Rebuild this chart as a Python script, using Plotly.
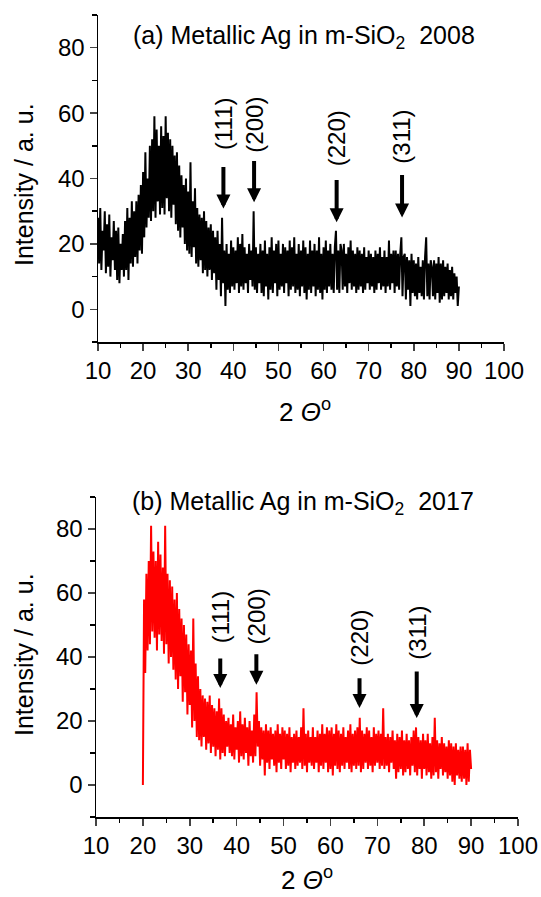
import numpy as np
import plotly.graph_objects as go

# ---------------- data ----------------
# panel (a): 2-theta from 10 to 90 in 0.25 steps
theta_a_start, theta_a_step = 10.0, 0.25
intensity_a = [
    28, 14, 31, 12, 24, 18, 30, 11,
    26, 13, 29, 10, 22, 15, 27, 12,
    24, 9, 25, 8, 20, 12, 23, 10,
    27, 12, 31, 9, 28, 14, 33, 13,
    30, 16, 33, 14, 35, 18, 38, 17,
    42, 22, 48, 25, 40, 28, 50, 27,
    52, 30, 59, 28, 55, 33, 50, 29,
    56, 31, 53, 29, 59, 34, 54, 30,
    52, 28, 50, 32, 47, 26, 48, 24,
    44, 22, 41, 25, 38, 20, 40, 18,
    36, 17, 45, 16, 33, 19, 37, 14,
    31, 13, 29, 15, 28, 11, 30, 12,
    27, 10, 25, 12, 26, 9, 24, 11,
    22, 6, 24, 9, 20, 4, 28, 8,
    18, 1, 20, 6, 17, 5, 21, 7,
    19, 6, 18, 8, 22, 5, 20, 7,
    23, 6, 19, 8, 17, 5, 20, 9,
    18, 7, 30, 6, 19, 5, 17, 8,
    20, 5, 18, 4, 21, 7, 17, 3,
    19, 6, 22, 5, 18, 8, 20, 4,
    21, 6, 17, 7, 20, 5, 19, 8,
    18, 4, 21, 6, 19, 7, 22, 5,
    17, 6, 20, 4, 18, 7, 21, 5,
    19, 3, 17, 6, 21, 5, 18, 7,
    20, 4, 18, 6, 22, 5, 17, 3,
    19, 6, 21, 5, 18, 7, 20, 6,
    17, 5, 19, 24, 6, 18, 5, 20,
    18, 6, 20, 7, 17, 5, 19, 8,
    21, 6, 18, 7, 17, 5, 19, 6,
    18, 7, 17, 5, 19, 6, 16, 8,
    18, 6, 17, 7, 16, 5, 18, 6,
    17, 8, 19, 6, 16, 7, 18, 5,
    16, 7, 21, 6, 17, 8, 18, 5,
    18, 7, 17, 6, 17, 22, 4, 16,
    17, 3, 16, 6, 15, 1, 17, 5,
    15, 4, 14, 3, 16, 5, 13, 4,
    15, 3, 16, 22, 4, 14, 3, 15,
    13, 4, 15, 3, 14, 5, 16, 2,
    14, 3, 15, 4, 13, 5, 14, 3,
    12, 4, 13, 3, 11, 5, 10, 1,
    7,
]

# panel (b): 2-theta from 20 to 90 in 0.25 steps
theta_b_start, theta_b_step = 20.0, 0.25
intensity_b = [
    0, 58, 35, 66, 42, 70, 44, 81,
    48, 73, 46, 70, 42, 76, 47, 72,
    45, 68, 41, 81, 44, 66, 38, 64,
    40, 62, 36, 58, 33, 60, 30, 55,
    34, 52, 26, 50, 29, 47, 22, 44,
    25, 42, 18, 52, 20, 38, 15, 34,
    14, 30, 12, 28, 15, 27, 11, 26,
    13, 28, 10, 25, 12, 24, 9, 23,
    11, 27, 8, 24, 10, 22, 9, 20,
    12, 21, 10, 19, 9, 22, 8, 18,
    11, 20, 7, 23, 9, 19, 8, 21,
    10, 18, 6, 20, 9, 17, 7, 22,
    9, 29, 12, 20, 6, 18, 8, 17,
    3, 19, 7, 17, 5, 18, 8, 16,
    6, 17, 4, 19, 7, 16, 5, 18,
    8, 17, 5, 16, 6, 18, 4, 15,
    7, 16, 5, 17, 6, 15, 7, 18,
    5, 24, 6, 16, 4, 17, 7, 15,
    6, 18, 5, 15, 7, 17, 4, 16,
    6, 19, 5, 16, 7, 18, 4, 17,
    5, 18, 3, 16, 6, 19, 5, 17,
    4, 16, 6, 18, 5, 15, 7, 17,
    5, 19, 4, 16, 6, 17, 5, 18,
    6, 21, 4, 17, 5, 16, 7, 18,
    5, 17, 6, 15, 4, 18, 6, 16,
    7, 17, 5, 16, 6, 24, 5, 15,
    6, 16, 4, 15, 7, 17, 5, 14,
    2, 16, 4, 15, 5, 17, 3, 14,
    4, 16, 5, 14, 3, 15, 6, 17,
    4, 18, 3, 15, 5, 14, 2, 16,
    5, 14, 3, 16, 4, 13, 2, 15,
    3, 21, 4, 14, 2, 13, 5, 15,
    3, 13, 4, 12, 2, 14, 3, 13,
    1, 12, 0, 13, 3, 11, 2, 12,
    1, 12, 2, 11, 0, 13, 1, 11,
    5,
]

theta_a = theta_a_start + theta_a_step * np.arange(len(intensity_a))
theta_b = theta_b_start + theta_b_step * np.arange(len(intensity_b))

# reflection markers
hkl_labels = ["(111)", "(200)", "(220)", "(311)"]
peaks_a_x = [37.8, 44.6, 62.9, 77.4]
arrow_head_a = [30.8, 32.7, 26.6, 28.1]
arrow_tail_a = [44.0, 45.8, 40.0, 41.5]
label_y_a = [56.8, 56.5, 52.2, 52.8]

peaks_b_x = [36.5, 44.2, 66.2, 78.4]
arrow_head_b = [30.3, 31.3, 24.1, 20.9]
arrow_tail_b = [40.0, 41.3, 33.8, 35.9]
label_y_b = [52.5, 52.8, 45.9, 47.5]

x_ticks = list(range(10, 101, 10))
y_ticks = [0, 20, 40, 60, 80]

titles = ["(a) Metallic Ag in m-SiO<sub>2</sub>  2008",
          "(b) Metallic Ag in m-SiO<sub>2</sub>  2017"]

# ---------------- figure ----------------
W, H = 541, 897
FONT = "Arial, Liberation Sans, sans-serif"

fig = go.Figure()
fig.add_trace(go.Scatter(x=theta_a, y=intensity_a, mode="lines",
                         line=dict(color="black", width=2),
                         xaxis="x", yaxis="y", showlegend=False))
fig.add_trace(go.Scatter(x=theta_b, y=intensity_b, mode="lines",
                         line=dict(color="#ff0000", width=2),
                         xaxis="x2", yaxis="y2", showlegend=False))


def xax(domain, anchor):
    return dict(domain=domain, anchor=anchor, range=[10, 100],
                tickvals=x_ticks, ticks="outside", ticklen=7, tickwidth=1.5,
                minor=dict(dtick=5, tick0=10, ticks="outside", ticklen=4, tickwidth=1.5,
                           tickcolor="black"),
                showline=True, linecolor="black", linewidth=1.5,
                showgrid=False, zeroline=False, mirror=False, automargin=False,
                tickfont=dict(family=FONT, size=24, color="black"))


def yax(domain, anchor):
    return dict(domain=domain, anchor=anchor, range=[-10, 90],
                tickvals=y_ticks, ticks="outside", ticklen=7, tickwidth=1.5,
                minor=dict(dtick=10, tick0=0, ticks="outside", ticklen=5, tickwidth=1.5,
                           tickcolor="black"),
                showline=True, linecolor="black", linewidth=1.5,
                showgrid=False, zeroline=False, mirror=False, automargin=False,
                tickfont=dict(family=FONT, size=24, color="black"))


fig.update_layout(
    width=W, height=H, autosize=False,
    margin=dict(l=0, r=0, t=0, b=0, pad=0),
    paper_bgcolor="white", plot_bgcolor="white",
    xaxis=xax([98 / W, 504 / W], "y"),
    yaxis=yax([1 - 342 / H, 1 - 15 / H], "x"),
    xaxis2=xax([96 / W, 518 / W], "y2"),
    yaxis2=yax([1 - 817 / H, 1 - 497 / H], "x2"),
    font=dict(family=FONT, color="black"),
)

annotations = []
panels = [
    ("x", "y", peaks_a_x, arrow_head_a, arrow_tail_a, label_y_a),
    ("x2", "y2", peaks_b_x, arrow_head_b, arrow_tail_b, label_y_b),
]
for xr, yr, px, head, tail, ly in panels:
    for lab, x0, h, t, yl in zip(hkl_labels, px, head, tail, ly):
        annotations.append(dict(x=x0, y=h, xref=xr, yref=yr, ax=x0, ay=t,
                                axref=xr, ayref=yr, text="", showarrow=True,
                                arrowhead=2, arrowsize=0.7, arrowwidth=4,
                                arrowcolor="black"))
        annotations.append(dict(x=x0, y=yl, xref=xr, yref=yr, text=lab,
                                textangle=-90, showarrow=False,
                                xanchor="center", yanchor="middle",
                                font=dict(family=FONT, size=24, color="black")))

# panel titles
annotations.append(dict(x=304 / W, y=1 - 37 / H, xref="paper", yref="paper",
                        text=titles[0], showarrow=False, xanchor="center",
                        yanchor="middle", font=dict(family=FONT, size=25, color="black")))
annotations.append(dict(x=303 / W, y=1 - 503 / H, xref="paper", yref="paper",
                        text=titles[1], showarrow=False, xanchor="center",
                        yanchor="middle", font=dict(family=FONT, size=25, color="black")))

# axis titles
for yc in [185, 655]:
    annotations.append(dict(x=24 / W, y=1 - yc / H, xref="paper", yref="paper",
                            text="Intensity / a. u.", textangle=-90, showarrow=False,
                            xanchor="center", yanchor="middle",
                            font=dict(family=FONT, size=25, color="black")))
annotations.append(dict(x=305 / W, y=1 - 411 / H, xref="paper", yref="paper",
                        text="2 <i>Θ</i><sup>o</sup>", showarrow=False,
                        xanchor="center", yanchor="middle",
                        font=dict(family=FONT, size=26, color="black")))
annotations.append(dict(x=307 / W, y=0, xref="paper", yref="paper",
                        text="2 <i>Θ</i><sup>o</sup>", showarrow=False,
                        xanchor="center", yanchor="bottom",
                        font=dict(family=FONT, size=26, color="black")))

fig.update_layout(annotations=annotations)
fig.write_html("out.html",
               config={"displayModeBar": False, "staticPlot": True},
               post_script="document.body.style.margin='0px';"
                           "document.body.style.overflow='hidden';")
